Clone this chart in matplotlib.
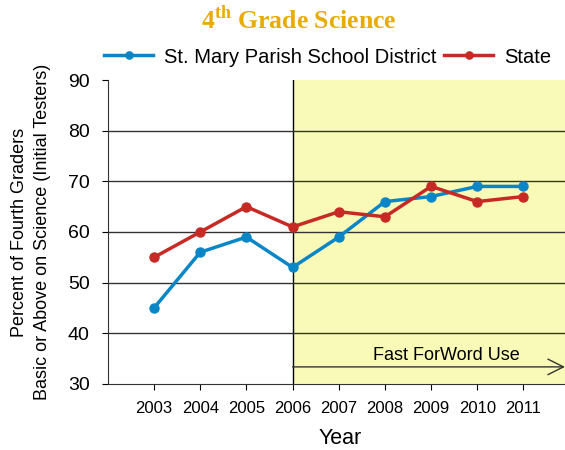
import numpy as np
import matplotlib
matplotlib.use('Agg')
import matplotlib.pyplot as plt

plt.rcParams['font.family'] = ['Liberation Sans', 'DejaVu Sans']
plt.rcParams['mathtext.fontset'] = 'custom'
plt.rcParams['mathtext.rm'] = 'Liberation Serif:bold'
plt.rcParams['mathtext.bf'] = 'Liberation Serif:bold'

# Data
years = [2003, 2004, 2005, 2006, 2007, 2008, 2009, 2010, 2011]
district = [45, 56, 59, 53, 59, 66, 67, 69, 69]
state = [55, 60, 65, 61, 64, 63, 69, 66, 67]
ffw_start = 2006

blue = '#0a86c6'
red = '#c72a25'
gold = '#e8ac00'

fig = plt.figure(figsize=(5.65, 4.5), dpi=100)
ax = fig.add_axes([0.191, 0.147, 0.809, 0.675])

# Fast ForWord shaded period
ax.axvspan(ffw_start, 2013, color='#fafab8', zorder=0)
ax.axvline(ffw_start, color='black', linewidth=1.0, zorder=1)

for y in [40, 50, 60, 70, 80]:
    ax.axhline(y, color='#333333', linewidth=1.0, zorder=1)

ax.plot(years, district, color=blue, marker='o', markersize=6.5, linewidth=2.5,
        label='St. Mary Parish School District', zorder=3)
ax.plot(years, state, color=red, marker='o', markersize=6.5, linewidth=2.5,
        label='State', zorder=3)

# arrow for Fast ForWord use
ax.annotate('', xy=(2011.9, 33.35), xytext=(ffw_start, 33.35),
            arrowprops=dict(arrowstyle='->', color='#333333', lw=1.0,
                            mutation_scale=28, shrinkA=0, shrinkB=0),
            zorder=2, annotation_clip=False)
ax.text(2009.33, 35.6, 'Fast ForWord Use', ha='center', va='center', fontsize=13)

ax.set_xlim(2002, 2011.9)
ax.set_ylim(30, 90)
ax.set_xticks(years)
ax.set_xticklabels([str(y) for y in years], fontsize=12)
ax.set_yticks([30, 40, 50, 60, 70, 80, 90])
ax.tick_params(axis='y', labelsize=14, length=4, direction='out', pad=9)
ax.tick_params(axis='x', length=4, direction='out', pad=8)
for s in ['top', 'right']:
    ax.spines[s].set_visible(False)
ax.spines['left'].set_color('#333333')
ax.spines['bottom'].set_color('#333333')

ax.set_ylabel('Percent of Fourth Graders\nBasic or Above on Science (Initial Testers)',
              fontsize=13, linespacing=1.45, va='center')
ax.yaxis.set_label_coords(-0.168, 0.5)
ax.set_xlabel('Year', fontsize=15.5, va='top')
ax.xaxis.set_label_coords(0.508, -0.145)

leg = ax.legend(loc='center', bbox_to_anchor=(0.481, 1.076), ncol=2, frameon=False,
                fontsize=14.5, handlelength=2.45, columnspacing=0.35,
                handletextpad=0.55, borderaxespad=0, borderpad=0, markerscale=0.8)

fig.text(0.529, 0.956, r'$4^{\mathrm{th}}$ Grade Science', color=gold, fontsize=18.5,
         fontweight='bold', family='Liberation Serif', ha='center', va='center')

fig.savefig('out.png', dpi=100)
